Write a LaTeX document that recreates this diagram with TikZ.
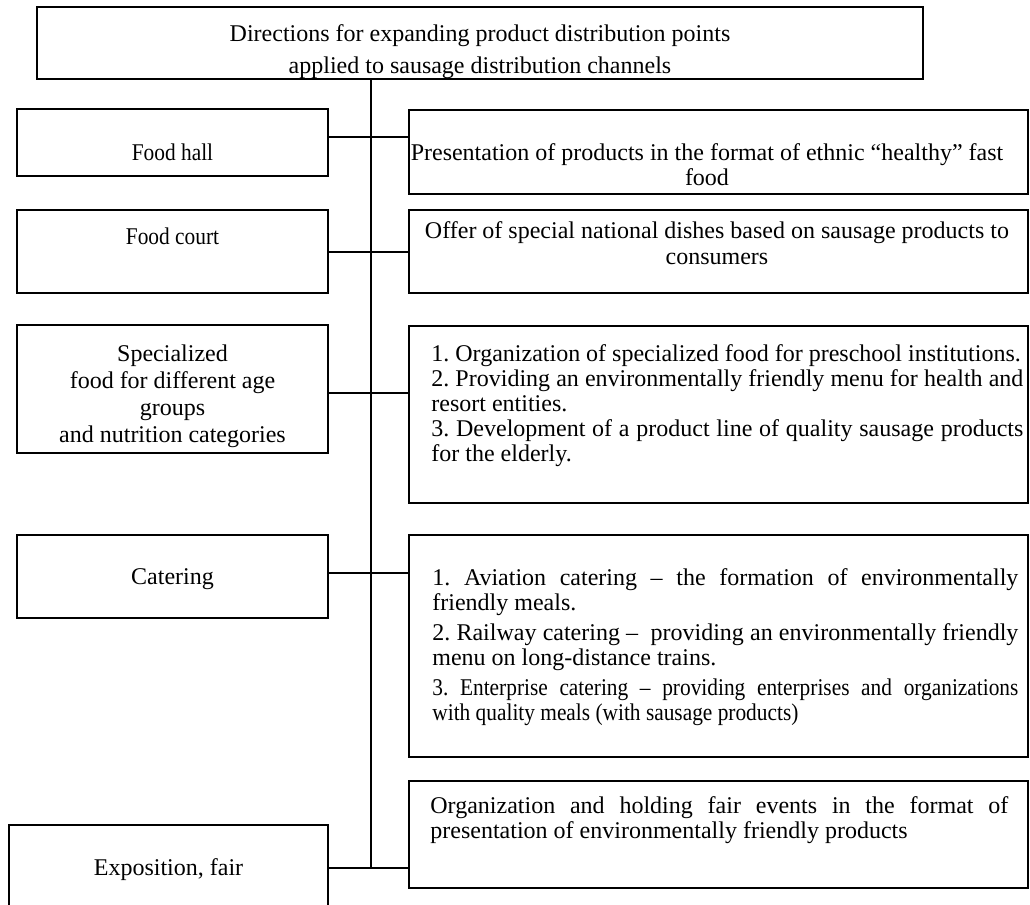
\documentclass[tikz,border=0pt]{standalone}
\usepackage{fontspec}
\setmainfont{Liberation Serif}
\newfontfamily\narrowserif{Liberation Serif}[FakeStretch=0.89]
\usetikzlibrary{positioning,fit}
\setlength{\parindent}{0pt}
\frenchspacing
\newcommand{\firstline}{\rule{0pt}{9pt}}

\begin{document}
\begin{tikzpicture}[x=0.5pt,y=-0.5pt,
    cell/.style={draw,line width=0.7pt,inner sep=0pt},
    txt/.style={inner sep=0pt,font=\fontsize{12}{12.5}\selectfont},
    link/.style={line width=0.6pt}]
  \clip (0,0) rectangle (1030,905);
  % boxes
  \node[cell,fit={(37,7) (923,79)}] (head) {};
  \node[cell,fit={(17,109) (328,176)}] (hall) {};
  \node[cell,fit={(17,210) (328,293)}] (court) {};
  \node[cell,fit={(17,325) (328,453)}] (agefood) {};
  \node[cell,fit={(17,535) (328,618)}] (cater) {};
  \node[cell,fit={(9,825) (328,930)}] (expo) {}; % runs off the page
  \node[cell,fit={(409,110) (1028,194)}] (dhall) {};
  \node[cell,fit={(409,210) (1028,293)}] (dcourt) {};
  \node[cell,fit={(409,326) (1028,503)}] (dage) {};
  \node[cell,fit={(409,535) (1028,757)}] (dcater) {};
  \node[cell,fit={(409,781) (1028,888)}] (dexpo) {};
  % texts
  \begin{scope}
    \clip (head.north west) rectangle (head.south east);
    \node[txt,font=\fontsize{12}{16}\selectfont,align=center,anchor=north] (headtxt) at (480,23)
      {\firstline Directions for expanding product distribution points\\ applied to sausage distribution channels};
  \end{scope}
  \node[txt,font=\fontsize{12}{12.5}\narrowserif,anchor=base] (halltxt) at (172.5,160) {Food hall};
  \node[txt,font=\fontsize{12}{12.5}\narrowserif,anchor=base] (courttxt) at (172.5,244) {Food court};
  \begin{scope}
    \clip (agefood.north west) rectangle (agefood.south east);
    \node[txt,font=\fontsize{12}{13.5}\selectfont,align=center,anchor=north] (agetxt) at (172.5,343)
      {\firstline Specialized\\ food for different age\\ groups\\ and nutrition categories};
  \end{scope}
  \node[txt,anchor=base] (catertxt) at (172.5,584) {Catering};
  \node[txt,anchor=base] (expotxt) at (168.5,875) {Exposition, fair};
  \node[txt,align=center,anchor=north] (dhalltxt) at (707,142)
    {\firstline Presentation of products in the format of ethnic “healthy” fast\\ food};
  \node[txt,font=\fontsize{12}{13}\selectfont,align=center,anchor=north] (dcourttxt) at (717,220)
    {\firstline Offer of special national dishes based on sausage products to\\ consumers};
  \node[txt,text width=296pt,align=justify,anchor=north west] (dagetxt) at (431,343)
    {\firstline 1. Organization of specialized food for preschool institutions.\par
     2. Providing an environmentally friendly menu for health and\linebreak resort entities.\par
     3. Development of a product line of quality sausage products\linebreak for the elderly.};
  \node[txt,text width=293pt,align=justify,anchor=north west,
        execute at begin node={\setlength{\parskip}{2.5pt}}] (dcatertxt) at (432,567)
    {\firstline 1. Aviation catering – the formation of environmentally\linebreak friendly meals.\par
     2. Railway catering –\ \ providing an environmentally friendly\linebreak menu on long-distance trains.\par
     {\narrowserif 3. Enterprise catering – providing enterprises and organizations\linebreak with quality meals (with sausage products)}};
  \node[txt,text width=289pt,align=justify,anchor=north west] (dexpotxt) at (430,795)
    {\firstline Organization and holding fair events in the format of\linebreak presentation of environmentally friendly products};
  % connectors
  \coordinate (j1) at (371,137);
  \coordinate (j2) at (371,252);
  \coordinate (j3) at (371,393);
  \coordinate (j4) at (371,573);
  \coordinate (j5) at (371,868);
  \draw[link] (j1 |- head.south) -- (j5);
  \draw[link] (hall.east |- j1) -- (dhall.west |- j1);
  \draw[link] (court.east |- j2) -- (dcourt.west |- j2);
  \draw[link] (agefood.east |- j3) -- (dage.west |- j3);
  \draw[link] (cater.east |- j4) -- (dcater.west |- j4);
  \draw[link] (expo.east |- j5) -- (dexpo.west |- j5);
\end{tikzpicture}
\end{document}
